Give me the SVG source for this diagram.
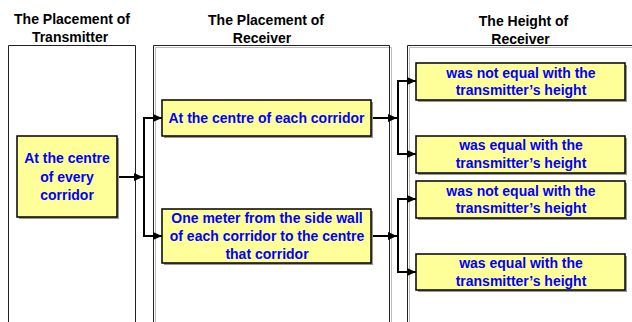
<svg xmlns="http://www.w3.org/2000/svg" width="632" height="322" viewBox="0 0 632 322">
<style>
.title{font-family:"Liberation Sans",Arial,sans-serif;font-size:14px;font-weight:bold;fill:#000;text-anchor:middle}
.lbl{font-family:"Liberation Sans",Arial,sans-serif;font-size:14px;font-weight:bold;fill:#0000FF;text-anchor:middle}
.box{fill:#FFFF99;stroke:#000;stroke-width:1.5}
.shadow{fill:#999}
.frame{fill:none;stroke:#222;stroke-width:1}
.fshadow{fill:none;stroke:#bbb;stroke-width:1}
.conn{fill:none;stroke:#000;stroke-width:2}
</style>
<defs>
<marker id="arr" markerUnits="userSpaceOnUse" markerWidth="10" markerHeight="8" refX="9" refY="4" orient="auto">
<path d="M0,0 L9,4 L0,8 Z" fill="#000"/>
</marker>
</defs>
<rect width="632" height="322" fill="#fff"/>
<g id="col-transmitter">
<path class="frame" d="M8.5,322 V45.5 H135.5 V322"/>
<text class="title" x="72" y="24">The Placement of</text>
<text class="title" x="70" y="42">Transmitter</text>
</g>
<g id="col-receiver">
<path class="fshadow" d="M155.5,322 V47.5 H391.5 V322"/>
<path class="frame" d="M153.5,322 V45.5 H389.5 V322"/>
<text class="title" x="266" y="25">The Placement of</text>
<text class="title" x="262" y="43">Receiver</text>
</g>
<g id="col-height">
<path class="fshadow" d="M409.5,322 V47.5 H640"/>
<path class="frame" d="M407.5,322 V45.5 H640"/>
<text class="title" x="523.5" y="26">The Height of</text>
<text class="title" x="520.5" y="44">Receiver</text>
</g>
<g id="connectors">
<path class="conn" d="M117,177 H143" marker-end="url(#arr)"/>
<path class="conn" d="M144,118 V236"/>
<path class="conn" d="M143,118 H162" marker-end="url(#arr)"/>
<path class="conn" d="M143,236 H162" marker-end="url(#arr)"/>
<path class="conn" d="M371,118 H397" marker-end="url(#arr)"/>
<path class="conn" d="M398,81 V154"/>
<path class="conn" d="M397,81 H416" marker-end="url(#arr)"/>
<path class="conn" d="M397,154 H416" marker-end="url(#arr)"/>
<path class="conn" d="M371,236 H397" marker-end="url(#arr)"/>
<path class="conn" d="M398,199 V272"/>
<path class="conn" d="M397,199 H416" marker-end="url(#arr)"/>
<path class="conn" d="M397,272 H416" marker-end="url(#arr)"/>
</g>
<g id="tx-centre">
<rect class="shadow" x="19" y="138" width="100" height="81"/>
<rect class="box" x="17" y="136" width="100" height="81"/>
<text class="lbl" x="67" y="163">At the centre</text>
<text class="lbl" x="67" y="182">of every</text>
<text class="lbl" x="67" y="200">corridor</text>
</g>
<g id="rx-centre">
<rect class="shadow" x="164" y="102" width="209" height="36"/>
<rect class="box" x="162" y="100" width="209" height="36"/>
<text class="lbl" x="266.5" y="123">At the centre of each corridor</text>
</g>
<g id="rx-onemeter">
<rect class="shadow" x="164" y="211" width="209" height="54"/>
<rect class="box" x="162" y="209" width="209" height="54"/>
<text class="lbl" x="267" y="223">One meter from the side wall</text>
<text class="lbl" x="267" y="241">of each corridor to the centre</text>
<text class="lbl" x="267" y="259">that corridor</text>
</g>
<g id="h1-notequal">
<rect class="shadow" x="418" y="65" width="209" height="37"/>
<rect class="box" x="416" y="63" width="209" height="37"/>
<text class="lbl" x="521" y="78">was not equal with the</text>
<text class="lbl" x="521" y="95">transmitter’s height</text>
</g>
<g id="h1-equal">
<rect class="shadow" x="418" y="138" width="209" height="37"/>
<rect class="box" x="416" y="136" width="209" height="37"/>
<text class="lbl" x="521" y="150">was equal with the</text>
<text class="lbl" x="521" y="168">transmitter’s height</text>
</g>
<g id="h2-notequal">
<rect class="shadow" x="418" y="183" width="209" height="37"/>
<rect class="box" x="416" y="181" width="209" height="37"/>
<text class="lbl" x="521" y="196">was not equal with the</text>
<text class="lbl" x="521" y="213">transmitter’s height</text>
</g>
<g id="h2-equal">
<rect class="shadow" x="418" y="256" width="209" height="36"/>
<rect class="box" x="416" y="254" width="209" height="36"/>
<text class="lbl" x="521" y="268">was equal with the</text>
<text class="lbl" x="521" y="286">transmitter’s height</text>
</g>
</svg>
